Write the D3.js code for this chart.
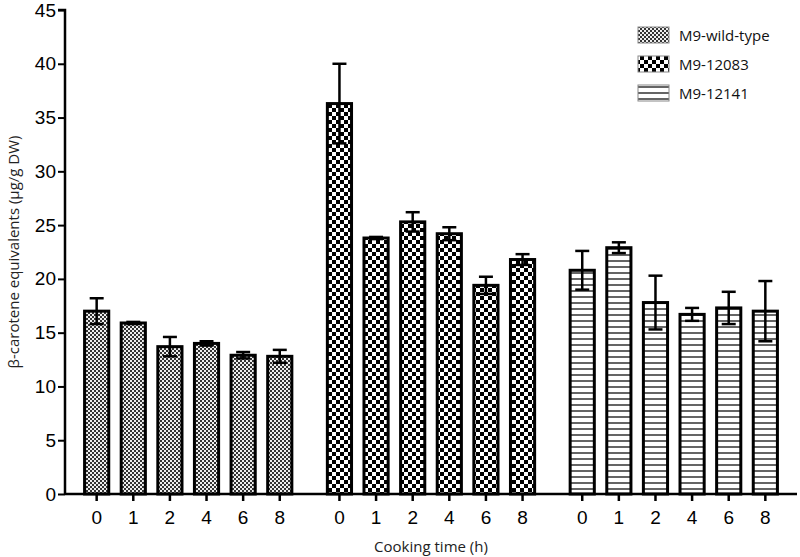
<!DOCTYPE html>
<html>
<head>
<meta charset="utf-8">
<script src="https://cdn.jsdelivr.net/npm/d3@7"></script>
<style>
  body { margin: 0; background: #fff; }
  svg { display: block; }
  .tick text { font-family: "Liberation Sans", Arial, sans-serif; font-size: 19px; fill: #000; }
  .title { font-family: "Open Sans", "Lato", sans-serif; font-size: 15px; fill: #222; }
  .legend text { font-family: "Open Sans", "Lato", sans-serif; font-size: 15px; fill: #111; }
</style>
</head>
<body>
<svg id="chart" width="800" height="557"></svg>
<script>
const lines = ["M9-wild-type", "M9-12083", "M9-12141"];
const times = ["0", "1", "2", "4", "6", "8"];
const meanWild = [17.0, 15.9, 13.7, 14.0, 12.9, 12.8];
const errWild = [1.2, 0.1, 0.9, 0.2, 0.3, 0.6];
const mean12083 = [36.3, 23.8, 25.3, 24.2, 19.4, 21.8];
const err12083 = [3.7, 0.1, 0.9, 0.6, 0.8, 0.5];
const mean12141 = [20.8, 22.9, 17.8, 16.7, 17.3, 17.0];
const err12141 = [1.8, 0.5, 2.5, 0.6, 1.5, 2.8];
const yTicks = [0, 5, 10, 15, 20, 25, 30, 35, 40, 45];

const means = [meanWild, mean12083, mean12141];
const errs = [errWild, err12083, err12141];
const patternIds = ["pat-wild", "pat-12083", "pat-12141"];

const svg = d3.select("#chart");
const axisX = 65, axisRight = 797, yTop = 10, yBottom = 494;

// Patterns
const defs = svg.append("defs");
const p1 = defs.append("pattern").attr("id", "pat-wild")
    .attr("patternUnits", "userSpaceOnUse").attr("width", 4).attr("height", 4);
p1.append("rect").attr("width", 4).attr("height", 4).attr("fill", "#eee");
p1.append("rect").attr("width", 2).attr("height", 2).attr("fill", "#333");
p1.append("rect").attr("x", 2).attr("y", 2).attr("width", 2).attr("height", 2).attr("fill", "#333");

const p2 = defs.append("pattern").attr("id", "pat-12083")
    .attr("patternUnits", "userSpaceOnUse").attr("width", 8).attr("height", 8);
p2.append("rect").attr("width", 8).attr("height", 8).attr("fill", "#fff");
p2.append("rect").attr("width", 4).attr("height", 4).attr("fill", "#000");
p2.append("rect").attr("x", 4).attr("y", 4).attr("width", 4).attr("height", 4).attr("fill", "#000");

const p3 = defs.append("pattern").attr("id", "pat-12141")
    .attr("patternUnits", "userSpaceOnUse").attr("width", 6).attr("height", 6);
p3.append("rect").attr("width", 6).attr("height", 6).attr("fill", "#fff");
p3.append("line").attr("x1", 0).attr("x2", 6).attr("y1", 3).attr("y2", 3)
    .attr("stroke", "#111").attr("stroke-width", 1.3);

// Scales
const x0 = d3.scaleBand().domain(lines).range([axisX, axisRight])
    .paddingInner(0.095).paddingOuter(0.055);
const x1 = d3.scaleBand().domain(times).range([0, x0.bandwidth()])
    .paddingInner(0.34).paddingOuter(0.17);
const y = d3.scaleLinear().domain([0, 45]).range([yBottom, yTop]);

// Bars
const data = [];
lines.forEach((l, gi) => {
    times.forEach((t, ti) => {
        data.push({ line: l, gi: gi, time: t, v: means[gi][ti], e: errs[gi][ti] });
    });
});

const bars = svg.append("g");
bars.selectAll("rect").data(data).enter().append("rect")
    .attr("x", d => x0(d.line) + x1(d.time))
    .attr("y", d => y(d.v))
    .attr("width", x1.bandwidth())
    .attr("height", d => y(0) - y(d.v))
    .attr("fill", d => `url(#${patternIds[d.gi]})`)
    .attr("stroke", "#000")
    .attr("stroke-width", 3);

// Error bars
const capW = 14;
const eb = svg.append("g").attr("stroke", "#000").attr("stroke-width", 2.5);
data.forEach(d => {
    const cx = x0(d.line) + x1(d.time) + x1.bandwidth() / 2;
    eb.append("line").attr("x1", cx).attr("x2", cx)
        .attr("y1", y(d.v - d.e)).attr("y2", y(d.v + d.e));
    eb.append("line").attr("x1", cx - capW / 2).attr("x2", cx + capW / 2)
        .attr("y1", y(d.v + d.e)).attr("y2", y(d.v + d.e));
    eb.append("line").attr("x1", cx - capW / 2).attr("x2", cx + capW / 2)
        .attr("y1", y(d.v - d.e)).attr("y2", y(d.v - d.e));
});

// Y axis
const yAxis = svg.append("g").attr("transform", `translate(${axisX},0)`)
    .call(d3.axisLeft(y).tickValues(yTicks).tickSize(7).tickPadding(2));
yAxis.select(".domain").attr("stroke", "#000").attr("stroke-width", 2.5)
    .attr("d", `M-7,${yTop}H0V${yBottom}`);
yAxis.selectAll(".tick line").attr("stroke", "#000").attr("stroke-width", 2);

// X axis
const xAxis = svg.append("g").attr("transform", `translate(0,${yBottom})`);
xAxis.append("line").attr("x1", axisX).attr("x2", axisRight)
    .attr("stroke", "#000").attr("stroke-width", 2.5);
lines.forEach(l => {
    const sub = d3.scaleBand().domain(times).range([x0(l) + x1.range()[0], x0(l) + x1.range()[1]])
        .paddingInner(0.34).paddingOuter(0.17);
    const g = xAxis.append("g").call(d3.axisBottom(sub).tickSize(7).tickPadding(10));
    g.select(".domain").remove();
    g.selectAll(".tick line").attr("stroke", "#000").attr("stroke-width", 2.5);
});

// Titles
svg.append("text").attr("class", "title")
    .attr("x", (axisX + axisRight) / 2).attr("y", 552)
    .attr("text-anchor", "middle").text("Cooking time (h)");
svg.append("text").attr("class", "title")
    .attr("transform", `translate(19,${(yTop + yBottom) / 2}) rotate(-90)`)
    .attr("text-anchor", "middle").text("β-carotene equivalents (μg/g DW)");

// Legend
const legend = svg.append("g").attr("class", "legend");
lines.forEach((l, i) => {
    const ly = 27 + i * 29;
    legend.append("rect").attr("x", 638).attr("y", ly).attr("width", 31).attr("height", 16)
        .attr("fill", `url(#${patternIds[i]})`).attr("stroke", "#888").attr("stroke-width", 1);
    legend.append("text").attr("x", 679).attr("y", ly + 14).text(l);
});
</script>
</body>
</html>
